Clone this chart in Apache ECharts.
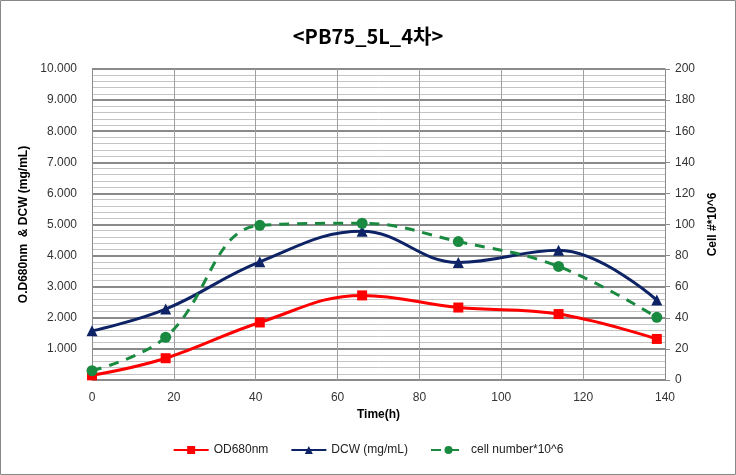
<!DOCTYPE html>
<html><head><meta charset="utf-8">
<script src="https://cdn.jsdelivr.net/npm/echarts@6/dist/echarts.min.js"></script>
<style>html,body{margin:0;padding:0;background:#fff}#c{width:736px;height:475px}</style>
</head><body><div id="c"></div>
<script>
var times = [0, 18, 41, 66, 89.5, 114, 138];
var od680 = [0.15, 0.70, 1.85, 2.72, 2.33, 2.12, 1.32];
var dcw = [1.58, 2.28, 3.80, 4.78, 3.78, 4.17, 2.57];
var cellNumber = [6, 27.5, 99.5, 100.8, 89, 73, 40.3];
var seriesNames = ['OD680nm', 'DCW (mg/mL)', 'cell number*10^6'];

function pairs(ys){ return times.map(function(t,i){ return [t, ys[i]]; }); }
var font = 'Liberation Sans';
var chart = echarts.init(document.getElementById('c'));
chart.setOption({
  animation: false,
  backgroundColor: '#fff',
  title: {
    text: '<PB75_5L_4차>', left: 'center', top: 21,
    textStyle: { fontFamily: 'Noto Sans CJK KR', fontWeight: 'bold', fontSize: 20, color: '#000' }
  },
  graphic: [{ type: 'rect', shape: { x: 0.5, y: 0.5, width: 735, height: 474 }, style: { fill: 'none', stroke: '#888', lineWidth: 1 }, silent: true }],
  grid: { left: 92, right: 71, top: 69, bottom: 95 },
  legend: {
    bottom: 14, left: 'center', itemWidth: 35, itemHeight: 10, itemGap: 22,
    textStyle: { fontFamily: font, fontSize: 12, color: '#222' },
    data: seriesNames
  },
  xAxis: {
    type: 'value', min: 0, max: 140, interval: 20,
    name: 'Time(h)', nameLocation: 'middle', nameGap: 27,
    nameTextStyle: { fontFamily: font, fontWeight: 'bold', fontSize: 12, color: '#000' },
    axisLine: { show: true, lineStyle: { color: '#8c8c8c', width: 1 } },
    axisTick: { show: false },
    axisLabel: { fontFamily: font, fontSize: 12, color: '#333', margin: 12 },
    splitLine: { show: true, lineStyle: { color: '#a0a0a0', width: 1 } }
  },
  yAxis: [{
    type: 'value', min: 0, max: 10, interval: 1, position: 'left',
    name: 'O.D680nm  & DCW (mg/mL)', nameLocation: 'middle', nameGap: 51, nameRotate: 90,
    nameTextStyle: { fontFamily: font, fontWeight: 'bold', fontSize: 12, color: '#000' },
    axisLine: { show: true, lineStyle: { color: '#8c8c8c' } },
    axisTick: { show: false },
    axisLabel: { fontFamily: font, fontSize: 12, color: '#333', margin: 15,
      formatter: function(v){ return v === 0 ? '' : v.toFixed(3); } },
    splitLine: { show: true, lineStyle: { color: '#8a8a8a', width: 2 } },
    minorTick: { show: false, splitNumber: 5 },
    minorSplitLine: { show: true, lineStyle: { color: '#c4c4c4', width: 1 } }
  }, {
    type: 'value', min: 0, max: 200, interval: 20, position: 'right',
    name: 'Cell #*10^6', nameLocation: 'middle', nameGap: 42, nameRotate: 90,
    nameTextStyle: { fontFamily: font, fontWeight: 'bold', fontSize: 12, color: '#000' },
    axisLine: { show: true, lineStyle: { color: '#8c8c8c' } },
    axisTick: { show: true, length: 5, lineStyle: { color: '#8c8c8c' } },
    axisLabel: { fontFamily: font, fontSize: 12, color: '#333', margin: 10 },
    splitLine: { show: false }
  }],
  series: [{
    name: seriesNames[0], type: 'line', yAxisIndex: 0, smooth: 0.4,
    data: pairs(od680), symbol: 'rect', symbolSize: 10,
    lineStyle: { color: '#ff0000', width: 3 }, itemStyle: { color: '#ff0000' }, z: 3
  }, {
    name: seriesNames[1], type: 'line', yAxisIndex: 0, smooth: 0.4,
    data: pairs(dcw), symbol: 'triangle', symbolSize: 11,
    lineStyle: { color: '#0d2366', width: 3 }, itemStyle: { color: '#0d2366' }, z: 4
  }, {
    name: seriesNames[2], type: 'line', yAxisIndex: 1, smooth: 0.4,
    data: pairs(cellNumber), symbol: 'circle', symbolSize: 11,
    lineStyle: { color: '#1a8a40', width: 3, type: [10, 8] }, itemStyle: { color: '#1a8a40' }, z: 5
  }]
});
</script></body></html>
